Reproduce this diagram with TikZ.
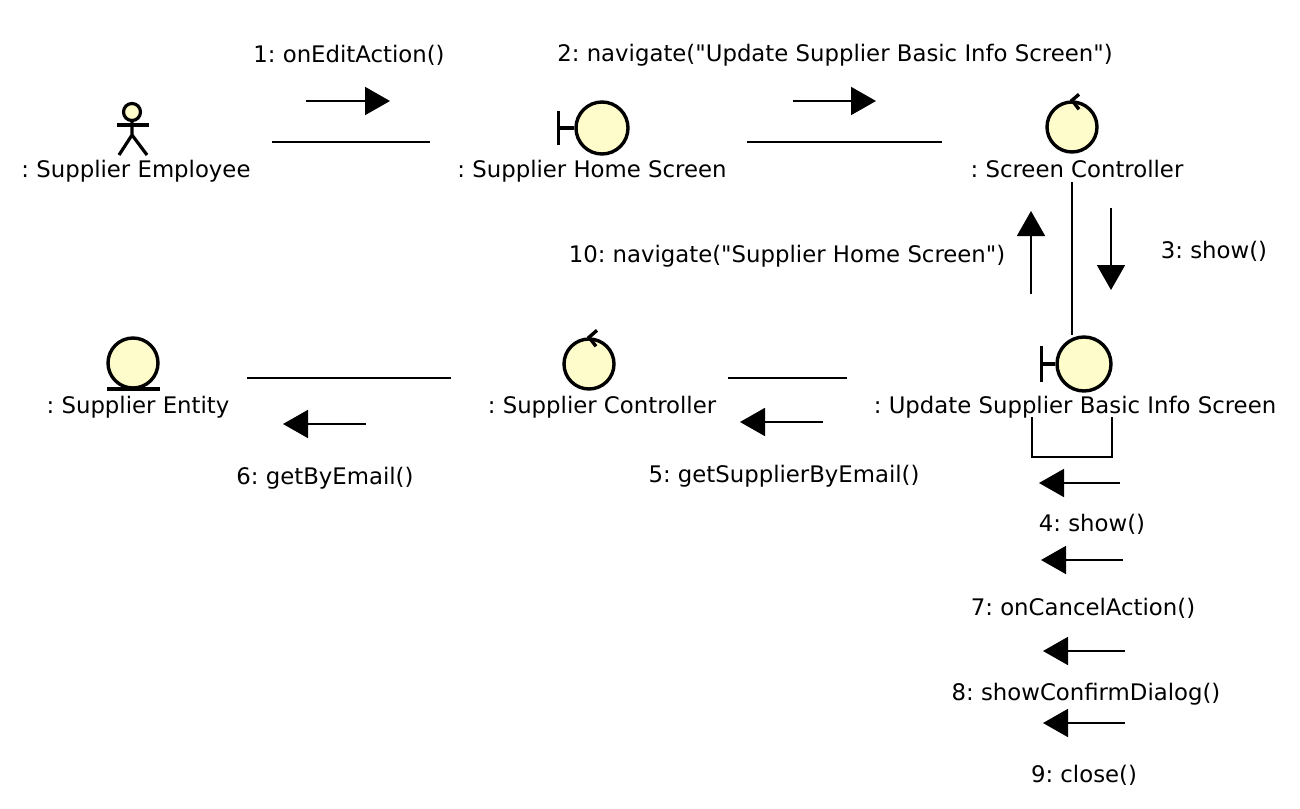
\documentclass[tikz,border=0pt]{standalone}
\usepackage{fontspec}
\newfontfamily\lblfont{DejaVu Sans}
\usetikzlibrary{arrows.meta}

\begin{document}
\frenchspacing
\begin{tikzpicture}[x=0.5pt,y=-0.5pt]
      \tikzstyle{obj}=[circle,line width=1.7pt,draw=black,fill=yellow!20,minimum size=25pt,inner sep=0pt]
      \tikzstyle{actorhead}=[circle,line width=1.6pt,draw=black,fill=yellow!20,minimum size=8.5pt,inner sep=0pt]
      \tikzstyle{tick}=[line width=1.7pt]
      \tikzstyle{limb}=[line width=1.6pt]
      \tikzstyle{lbl}=[font=\lblfont\fontsize{11.4}{14}\selectfont,inner sep=0pt,text=black]
      \tikzstyle{link}=[line width=0.9pt]
      \tikzstyle{msg}=[line width=0.9pt,-{Triangle[length=12.5pt,width=14pt]}]

      \useasboundingbox (0,0) rectangle (1300,808);

      % objects
      \node[actorhead](actor) at (132,112){};
      \node[obj,minimum size=26pt](home) at (602,128){};
      \node[obj](ctrl) at (1072,127){};
      \node[obj,minimum size=27pt](upd) at (1084,364){};
      \node[obj](supctrl) at (589,364){};
      \node[obj](entity) at (133,363){};

      % actor
      \draw[limb] (actor.south) -- (132,135) -- (119,155);
      \draw[limb] (132,135) -- (147,155);
      \draw[limb] (117,125) -- (149,125);

      % boundary, control and entity marks
      \draw[tick] (home.west) -- ++(-16,0) ++(0,-17) -- ++(0,34);
      \draw[tick] (upd.west) -- ++(-14,0) ++(0,-18) -- ++(0,36);
      \draw[tick] (ctrl.north) ++(7,-6) -- (ctrl.north) -- ++(7,9);
      \draw[tick] (supctrl.north) ++(8,-7) -- (supctrl.north) -- ++(7,9);
      \draw[tick] (107,389) -- (160,389);

      % object names
      \node[lbl](actorname) at (136,171){: Supplier Employee};
      \node[lbl](homename) at (592,171){: Supplier Home Screen};
      \node[lbl](ctrlname) at (1077,169){: Screen Controller};
      \node[lbl](updname) at (1075,407){: Update Supplier Basic Info Screen};
      \node[lbl](supctrlname) at (602,407){: Supplier Controller};
      \node[lbl](entityname) at (138,407){: Supplier Entity};

      % links
      \coordinate (l1a) at (272,142);
      \coordinate (l1b) at (430,142);
      \coordinate (l2a) at (747,142);
      \coordinate (l2b) at (942,142);
      \coordinate (l3a) at (247,378);
      \coordinate (l3b) at (451,378);
      \coordinate (l4a) at (728,378);
      \coordinate (l4b) at (847,378);
      \coordinate (s1) at (1032,417);
      \coordinate (s2) at (1112,417);
      \path[link]
      (l1a) edge (l1b)
      (l2a) edge (l2b)
      (l3a) edge (l3b)
      (l4a) edge (l4b)
      (ctrl |- ctrlname.south) edge[shorten <=2pt] (ctrl |- upd.north);
      \draw[link] (s1) -- ++(0,40) -| (s2);

      % message arrows
      \coordinate (m1a) at (306,101);
      \coordinate (m1b) at (390,101);
      \coordinate (m2a) at (793,101);
      \coordinate (m2b) at (876,101);
      \coordinate (m3a) at (1111,208);
      \coordinate (m3b) at (1111,290);
      \coordinate (m4a) at (1120,483);
      \coordinate (m4b) at (1039,483);
      \coordinate (m5a) at (823,422);
      \coordinate (m5b) at (740,422);
      \coordinate (m6a) at (366,424);
      \coordinate (m6b) at (283,424);
      \coordinate (m7a) at (1123,560);
      \coordinate (m7b) at (1041,560);
      \coordinate (m8a) at (1125,651);
      \coordinate (m8b) at (1043,651);
      \coordinate (m9a) at (1125,723);
      \coordinate (m9b) at (1043,723);
      \coordinate (m10a) at (1031,294);
      \coordinate (m10b) at (1031,211);
      \path[msg]
      (m1a) edge (m1b)
      (m2a) edge (m2b)
      (m3a) edge (m3b)
      (m4a) edge (m4b)
      (m5a) edge (m5b)
      (m6a) edge (m6b)
      (m7a) edge (m7b)
      (m8a) edge (m8b)
      (m9a) edge (m9b)
      (m10a) edge (m10b);

      % message labels
      \node[lbl](t1) at (349,55){1: onEditAction()};
      \node[lbl](t2) at (835,55){2: navigate("Update Supplier Basic Info Screen")};
      \node[lbl](t3) at (1214,251){3: show()};
      \node[lbl](t4) at (1092,524){4: show()};
      \node[lbl](t5) at (784,476){5: getSupplierByEmail()};
      \node[lbl](t6) at (325,478){6: getByEmail()};
      \node[lbl](t7) at (1083,608){7: onCancelAction()};
      \node[lbl](t8) at (1086,694){8: showConfirmDialog()};
      \node[lbl](t9) at (1084,775){9: close()};
      \node[lbl](t10) at (787,256){10: navigate("Supplier Home Screen")};
    \end{tikzpicture}
\end{document}
